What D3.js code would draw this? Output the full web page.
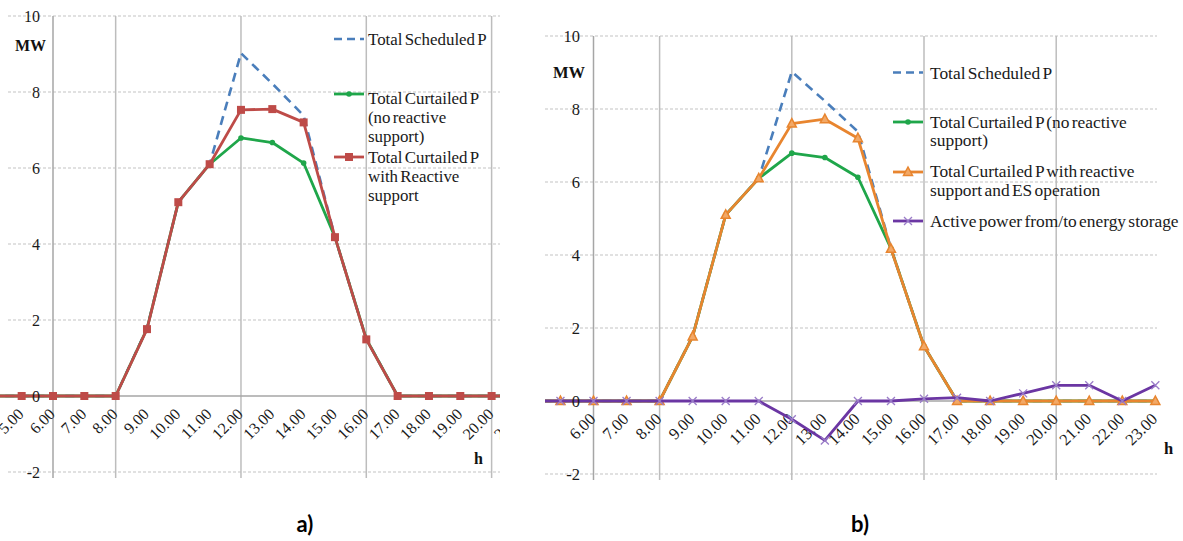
<!DOCTYPE html>
<html>
<head>
<meta charset="utf-8">
<script src="https://cdn.jsdelivr.net/npm/d3@7"></script>
<style>
  body { margin: 0; background: #fff; }
</style>
</head>
<body>
<svg id="chart" width="1183" height="541"></svg>
<script>
// Hourly categories (h)
const hourLabels = ["4.00","5.00","6.00","7.00","8.00","9.00","10.00","11.00","12.00","13.00",
                    "14.00","15.00","16.00","17.00","18.00","19.00","20.00","21.00","22.00","23.00"];

// Active power series, MW, one value per hour in hourLabels
const scheduledP          = [0, 0, 0, 0, 0, 1.78, 5.1, 6.1, 9.02, 8.22, 7.38, 4.18, 1.5, 0, 0, 0, 0, 0, 0, 0];
const curtailedNoReactive = [0, 0, 0, 0, 0, 1.77, 5.1, 6.1, 6.79, 6.67, 6.13, 4.18, 1.5, 0, 0, 0, 0, 0, 0, 0];
const curtailedReactive   = [0, 0, 0, 0, 0, 1.76, 5.1, 6.1, 7.53, 7.55, 7.2, 4.18, 1.49, 0, 0, 0, 0, 0];
const curtailedReactiveES = [0, 0, 0, 0, 0, 1.77, 5.1, 6.1, 7.6, 7.72, 7.2, 4.17, 1.5, 0, 0, 0, 0, 0, 0, 0];
const storageP            = [0, 0, 0, 0, 0, 0, 0, 0, -0.5, -1.08, 0, 0, 0.06, 0.09, 0, 0.21, 0.43, 0.43, 0, 0.43];

// Axis ticks
const yTicks = [-2, 0, 2, 4, 6, 8, 10];
const gridHours = ["8.00", "12.00", "16.00", "20.00"];
const axisHour = "6.00";
const labelsA = ["5.00","6.00","7.00","8.00","9.00","10.00","11.00","12.00","13.00","14.00",
                 "15.00","16.00","17.00","18.00","19.00","20.00","21.00"];
const labelsB = ["6.00","7.00","8.00","9.00","10.00","11.00","12.00","13.00","14.00","15.00",
                 "16.00","17.00","18.00","19.00","20.00","21.00","22.00","23.00"];

const SERIF = "'Liberation Serif', 'Times New Roman', serif";

const COLORS = {
  scheduled: "#4a7ebb",
  noReactive: "#1fa64a",
  reactive: "#be4b48",
  reactiveES: "#e8852f",
  storage: "#6b36a3",
  grid: "#c4c4c4",
  vgrid: "#bdbdbd",
  axis: "#a6a6a6",
  text: "#1a1a1a"
};

const svg = d3.select("#chart");
svg.append("rect").attr("width", 1183).attr("height", 541).attr("fill", "#fff");

function drawPanel(p) {
  const x = d3.scalePoint().domain(hourLabels).range(p.xRange);
  const y = d3.scaleLinear().domain([-2, 10]).range(p.yRange);

  const clipId = "clip-" + p.id;
  svg.append("clipPath").attr("id", clipId)
    .append("rect").attr("x", p.clip[0]).attr("y", 0)
    .attr("width", p.clip[1] - p.clip[0]).attr("height", 541);

  const g = svg.append("g").attr("clip-path", `url(#${clipId})`);

  // horizontal dashed gridlines
  g.selectAll("line.hgrid").data(yTicks.filter(d => d !== 0)).join("line")
    .attr("x1", p.gridX[0]).attr("x2", p.gridX[1])
    .attr("y1", d => y(d)).attr("y2", d => y(d))
    .attr("stroke", COLORS.grid).attr("stroke-width", 1.2)
    .attr("stroke-dasharray", "3,2");

  // vertical gridlines
  g.selectAll("line.vgrid").data(gridHours).join("line")
    .attr("x1", d => x(d)).attr("x2", d => x(d))
    .attr("y1", y(10)).attr("y2", y(-2) + 6)
    .attr("stroke", COLORS.vgrid).attr("stroke-width", 1.5);

  // value axis (crosses at 6.00)
  g.append("line")
    .attr("x1", x(axisHour)).attr("x2", x(axisHour))
    .attr("y1", y(10)).attr("y2", y(-2) + 6)
    .attr("stroke", COLORS.axis).attr("stroke-width", 1.5);

  // zero line (category axis)
  g.append("line")
    .attr("x1", p.gridX[0]).attr("x2", p.gridX[1])
    .attr("y1", y(0)).attr("y2", y(0))
    .attr("stroke", COLORS.axis).attr("stroke-width", 1.5);

  // y tick labels
  const yAxis = d3.axisLeft(y).tickValues(yTicks).tickSize(0).tickPadding(0)
    .tickFormat(d => String(d));
  const ya = svg.append("g").attr("transform", `translate(${p.yLabelX},0)`).call(yAxis);
  ya.select(".domain").remove();
  ya.selectAll("text")
    .style("font-family", SERIF)
    .style("font-size", p.fs + "px").attr("fill", COLORS.text).attr("dy", "0.34em");

  // x tick labels, rotated
  g.selectAll("text.xl").data(p.labels).join("text")
    .attr("transform", d => `translate(${x(d) + 3},${y(0) + 19}) rotate(-45)`)
    .attr("text-anchor", "end")
    .style("font-family", SERIF)
    .style("font-size", p.fs + "px").attr("fill", COLORS.text)
    .text(d => d);

  // axis titles
  svg.append("text").attr("x", p.mw[0]).attr("y", p.mw[1])
    .style("font-family", SERIF).style("font-size", p.titleFs + "px")
    .attr("font-weight", "bold").attr("fill", "#111").text("MW");
  svg.append("text").attr("x", p.h[0]).attr("y", p.h[1])
    .style("font-family", SERIF).style("font-size", p.titleFs + "px")
    .attr("font-weight", "bold").attr("fill", "#111").text("h");

  // series
  const line = d3.line().x(d => x(d.h)).y(d => y(d.v));
  p.series.forEach(s => {
    const pts = s.values.map((v, i) => ({ h: hourLabels[i], v }));
    g.append("path").datum(pts)
      .attr("d", line).attr("fill", "none")
      .attr("stroke", s.color).attr("stroke-width", s.width || 2.8)
      .attr("stroke-linejoin", "round")
      .attr("stroke-dasharray", s.dash || null);
    if (s.marker) {
      const mg = g.append("g");
      pts.forEach(d => drawMarker(mg, s.marker, x(d.h), y(d.v), s));
    }
  });

  // legend
  const lg = svg.append("g");
  p.legend.forEach(item => {
    const s = item.s;
    lg.append("line")
      .attr("x1", p.legX[0]).attr("x2", p.legX[1])
      .attr("y1", item.y).attr("y2", item.y)
      .attr("stroke", s.color).attr("stroke-width", s.width || 2.8)
      .attr("stroke-dasharray", s.dash ? "8,5" : null);
    if (s.marker) drawMarker(lg, s.marker, (p.legX[0] + p.legX[1]) / 2, item.y, s);
    const t = lg.append("text")
      .attr("x", p.legTextX).attr("y", item.ty)
      .style("font-family", SERIF)
      .style("font-size", p.legFs + "px").attr("fill", COLORS.text)
      .style("word-spacing", "-2px");
    item.lines.forEach((ln, i) => {
      t.append("tspan").attr("x", p.legTextX).attr("dy", i === 0 ? 0 : p.legLH).text(ln);
    });
  });

  // panel caption
  svg.append("text").attr("x", p.cap[0]).attr("y", p.cap[1])
    .attr("text-anchor", "middle")
    .style("font-family", "Lato, 'Open Sans', sans-serif")
    .style("font-size", "22px").attr("font-weight", "bold").attr("fill", "#000")
    .text(p.caption);
}

function drawMarker(g, type, cx, cy, s) {
  if (type === "circle") {
    g.append("circle").attr("cx", cx).attr("cy", cy).attr("r", 2.8).attr("fill", s.color);
  } else if (type === "square") {
    g.append("rect").attr("x", cx - 4).attr("y", cy - 4).attr("width", 8).attr("height", 8)
      .attr("fill", s.color);
  } else if (type === "triangle") {
    g.append("path")
      .attr("d", `M${cx},${cy - 5}L${cx + 4.5},${cy + 3.5}L${cx - 4.5},${cy + 3.5}Z`)
      .attr("fill", "#f2a866").attr("stroke", s.color).attr("stroke-width", 1.5);
  } else if (type === "cross") {
    g.append("path")
      .attr("d", `M${cx - 4},${cy - 4}L${cx + 4},${cy + 4}M${cx - 4},${cy + 4}L${cx + 4},${cy - 4}`)
      .attr("stroke", "#9a7cc8").attr("stroke-width", 1.3);
  }
}

const sSched = { values: scheduledP, color: COLORS.scheduled, dash: "9,6", width: 2.6 };
const sNoQ = { values: curtailedNoReactive, color: COLORS.noReactive, marker: "circle" };
const sQ = { values: curtailedReactive, color: COLORS.reactive, marker: "square" };
const sQES = { values: curtailedReactiveES, color: COLORS.reactiveES, marker: "triangle" };
const sES = { values: storageP, color: COLORS.storage, marker: "cross" };

// panel a)
drawPanel({
  id: "a",
  xRange: [53 - 2 * 31.33, 53 + 17 * 31.33],
  yRange: [472, 16],
  clip: [0, 500],
  gridX: [8, 500],
  yLabelX: 40,
  fs: 16,
  titleFs: 16,
  labels: labelsA,
  mw: [15, 51],
  h: [474, 464],
  series: [sSched, sNoQ, sQ],
  legX: [334, 364],
  legTextX: 368,
  legFs: 16.9,
  legLH: 19,
  legend: [
    { s: sSched, y: 39, ty: 45, lines: ["Total Scheduled P"] },
    { s: sNoQ, y: 94, ty: 103.5, lines: ["Total Curtailed P", "(no reactive", "support)"] },
    { s: sQ, y: 157, ty: 162.5, lines: ["Total Curtailed P", "with Reactive", "support"] }
  ],
  cap: [305, 532],
  caption: "a)"
});

// panel b)
drawPanel({
  id: "b",
  xRange: [593.5 - 2 * 33.05, 593.5 + 17 * 33.05],
  yRange: [474, 36],
  clip: [545, 1183],
  gridX: [545, 1157],
  yLabelX: 580,
  fs: 16.5,
  titleFs: 16.5,
  labels: labelsB,
  mw: [553, 78],
  h: [1164, 454],
  series: [sSched, sNoQ, sQES, sES],
  legX: [893, 923],
  legTextX: 930,
  legFs: 17.4,
  legLH: 18.5,
  legend: [
    { s: sSched, y: 72.5, ty: 78.5, lines: ["Total Scheduled P"] },
    { s: sNoQ, y: 122, ty: 127.5, lines: ["Total Curtailed P (no reactive", "support)"] },
    { s: sQES, y: 172, ty: 177, lines: ["Total Curtailed P with reactive", "support and ES operation"] },
    { s: sES, y: 221, ty: 227, lines: ["Active power from/to energy storage"] }
  ],
  cap: [860, 532],
  caption: "b)"
});
</script>
</body>
</html>
